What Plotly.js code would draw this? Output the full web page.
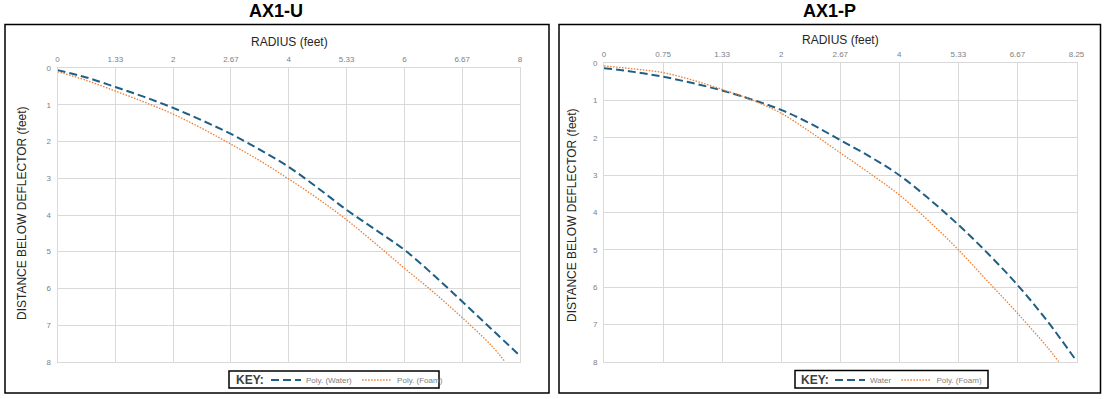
<!DOCTYPE html>
<html>
<head>
<meta charset="utf-8">
<script src="https://cdn.plot.ly/plotly-3.0.1.min.js"></script>
<style>html,body{margin:0;padding:0;background:#fff;}#chart{width:1105px;height:399px;}</style>
</head>
<body>
<div id="chart"></div>
<script>
// Tick labels (evenly spaced grid positions)
const tickLabelsU = ["0","1.33","2","2.67","4","5.33","6","6.67","8"];
const tickLabelsP = ["0","0.75","1.33","2","2.67","4","5.33","6.67","8.25"];
const yTicks = [0,1,2,3,4,5,6,7,8];

// AX1-U (x in grid positions)
const uWaterX = [0,0.5,1,1.5,2,2.5,3,3.5,4,4.5,5,5.5,6,6.5,7,7.5,8];
const uWaterY = [0.05,0.25,0.51,0.78,1.08,1.42,1.79,2.22,2.69,3.26,3.86,4.4,4.95,5.63,6.36,7.1,7.84];
const uFoamX = [0,0.5,1,1.5,2,2.5,3,3.5,4,4.5,5,5.5,6,6.5,7,7.5,7.74];
const uFoamY = [0.09,0.33,0.62,0.92,1.25,1.64,2.07,2.52,3.02,3.55,4.13,4.78,5.45,6.1,6.8,7.55,8.0];

// AX1-P
const pWaterX = [0,0.5,1,1.5,2,2.5,3,3.5,4,4.5,5,5.5,6,6.5,7,7.5,8];
const pWaterY = [0.13,0.23,0.36,0.53,0.73,0.97,1.25,1.62,2.06,2.5,3.0,3.63,4.33,5.1,5.94,6.9,7.98];
const pFoamX = [0,0.5,1,1.5,2,2.5,3,3.5,4,4.5,5,5.5,6,6.5,7,7.5,7.7];
const pFoamY = [0.07,0.15,0.25,0.45,0.7,0.98,1.34,1.85,2.4,2.95,3.53,4.23,5.0,5.85,6.7,7.6,8.0];

const WATER = "#1F5F84";
const FOAM = "#ED7D31";
const GRID = "#d9d9d9";
const FONT = "Liberation Sans, Arial, sans-serif";

const traces = [
  {x:uWaterX, y:uWaterY, xaxis:"x", yaxis:"y", mode:"lines", line:{color:WATER,width:2,dash:"8px,4px",shape:"spline"}, name:"Poly. (Water)", legend:"legend"},
  {x:uFoamX, y:uFoamY, xaxis:"x", yaxis:"y", mode:"lines", line:{color:FOAM,width:1.3,dash:"1.5px,1.5px",shape:"spline"}, name:"Poly. (Foam)", legend:"legend"},
  {x:pWaterX, y:pWaterY, xaxis:"x2", yaxis:"y2", mode:"lines", line:{color:WATER,width:2,dash:"8px,4px",shape:"spline"}, name:"Water", legend:"legend2"},
  {x:pFoamX, y:pFoamY, xaxis:"x2", yaxis:"y2", mode:"lines", line:{color:FOAM,width:1.3,dash:"1.5px,1.5px",shape:"spline"}, name:"Poly. (Foam)", legend:"legend2"}
];

const W = 1105, H = 399;
const px = v => v / W;
const py = v => 1 - v / H;

function xax(domain, labels){
  return {domain:domain, range:[0,8], side:"top", tickmode:"array", tickvals:[0,1,2,3,4,5,6,7,8], ticktext:labels,
    showgrid:true, gridcolor:GRID, gridwidth:1, zeroline:false, showline:true, linecolor:GRID, mirror:true,
    ticks:"", ticklabelstandoff:2, tickfont:{family:FONT,size:8,color:"#808080"}, fixedrange:true};
}
function yax(domain, anchor){
  return {domain:domain, range:[8,0], anchor:anchor, tickmode:"array", tickvals:yTicks, ticktext:yTicks.map(String),
    showgrid:true, gridcolor:GRID, gridwidth:1, zeroline:false, showline:true, linecolor:GRID, mirror:true,
    ticks:"", ticklabelstandoff:4, tickfont:{family:FONT,size:8,color:"#808080"}, fixedrange:true};
}

const legendBase = {xanchor:"left", yanchor:"middle", orientation:"h", bgcolor:"rgba(0,0,0,0)", borderwidth:0,
  font:{family:FONT,size:8,color:"#808080"}, itemwidth:30, tracegroupgap:0};

const layout = {
  width:W, height:H, margin:{l:0,r:0,t:0,b:0}, paper_bgcolor:"#fff", plot_bgcolor:"#fff",
  font:{family:FONT},
  showlegend:true,
  xaxis: Object.assign(xax([px(57.5),px(520)], tickLabelsU), {anchor:"y"}),
  yaxis: yax([py(361.7),py(68.3)], "x"),
  xaxis2: Object.assign(xax([px(604),px(1076.5)], tickLabelsP), {anchor:"y2"}),
  yaxis2: yax([py(361.7),py(63.3)], "x2"),
  legend: Object.assign({}, legendBase, {x:px(266), y:py(380)}),
  legend2: Object.assign({}, legendBase, {x:px(830), y:py(380)}),
  shapes: [
    {type:"rect", xref:"paper", yref:"paper", x0:px(5), x1:px(549), y0:py(393), y1:py(24.5), line:{color:"#000",width:1.5}, layer:"below"},
    {type:"rect", xref:"paper", yref:"paper", x0:px(559), x1:px(1100.5), y0:py(393), y1:py(24.5), line:{color:"#000",width:1.5}, layer:"below"},
    {type:"rect", xref:"paper", yref:"paper", x0:px(229), x1:px(439), y0:py(388), y1:py(371), line:{color:"#000",width:1.5}, fillcolor:"#fff", layer:"above"},
    {type:"rect", xref:"paper", yref:"paper", x0:px(795), x1:px(988), y0:py(388), y1:py(370.5), line:{color:"#000",width:1.5}, fillcolor:"#fff", layer:"above"}
  ],
  annotations: [
    {text:"<b>AX1-U</b>", xref:"paper", yref:"paper", x:px(276), y:py(11), xanchor:"center", yanchor:"middle", showarrow:false, font:{family:FONT,size:18,color:"#000"}},
    {text:"<b>AX1-P</b>", xref:"paper", yref:"paper", x:px(829), y:py(11), xanchor:"center", yanchor:"middle", showarrow:false, font:{family:FONT,size:18,color:"#000"}},
    {text:"RADIUS (feet)", xref:"paper", yref:"paper", x:px(289), y:py(42), xanchor:"center", yanchor:"middle", showarrow:false, font:{family:FONT,size:12,color:"#262626"}},
    {text:"RADIUS (feet)", xref:"paper", yref:"paper", x:px(840), y:py(40), xanchor:"center", yanchor:"middle", showarrow:false, font:{family:FONT,size:12,color:"#262626"}},
    {text:"DISTANCE BELOW DEFLECTOR (feet)", xref:"paper", yref:"paper", x:px(22), y:py(213), xanchor:"center", yanchor:"middle", textangle:-90, showarrow:false, font:{family:FONT,size:12,color:"#262626"}},
    {text:"DISTANCE BELOW DEFLECTOR (feet)", xref:"paper", yref:"paper", x:px(572), y:py(215), xanchor:"center", yanchor:"middle", textangle:-90, showarrow:false, font:{family:FONT,size:12,color:"#262626"}},
    {text:"<b>KEY:</b>", xref:"paper", yref:"paper", x:px(234), y:py(380), xanchor:"left", yanchor:"middle", showarrow:false, font:{family:FONT,size:12,color:"#404040"}},
    {text:"<b>KEY:</b>", xref:"paper", yref:"paper", x:px(799), y:py(379.5), xanchor:"left", yanchor:"middle", showarrow:false, font:{family:FONT,size:12,color:"#404040"}}
  ]
};

Plotly.newPlot("chart", traces, layout, {displayModeBar:false, staticPlot:true});
</script>
</body>
</html>
